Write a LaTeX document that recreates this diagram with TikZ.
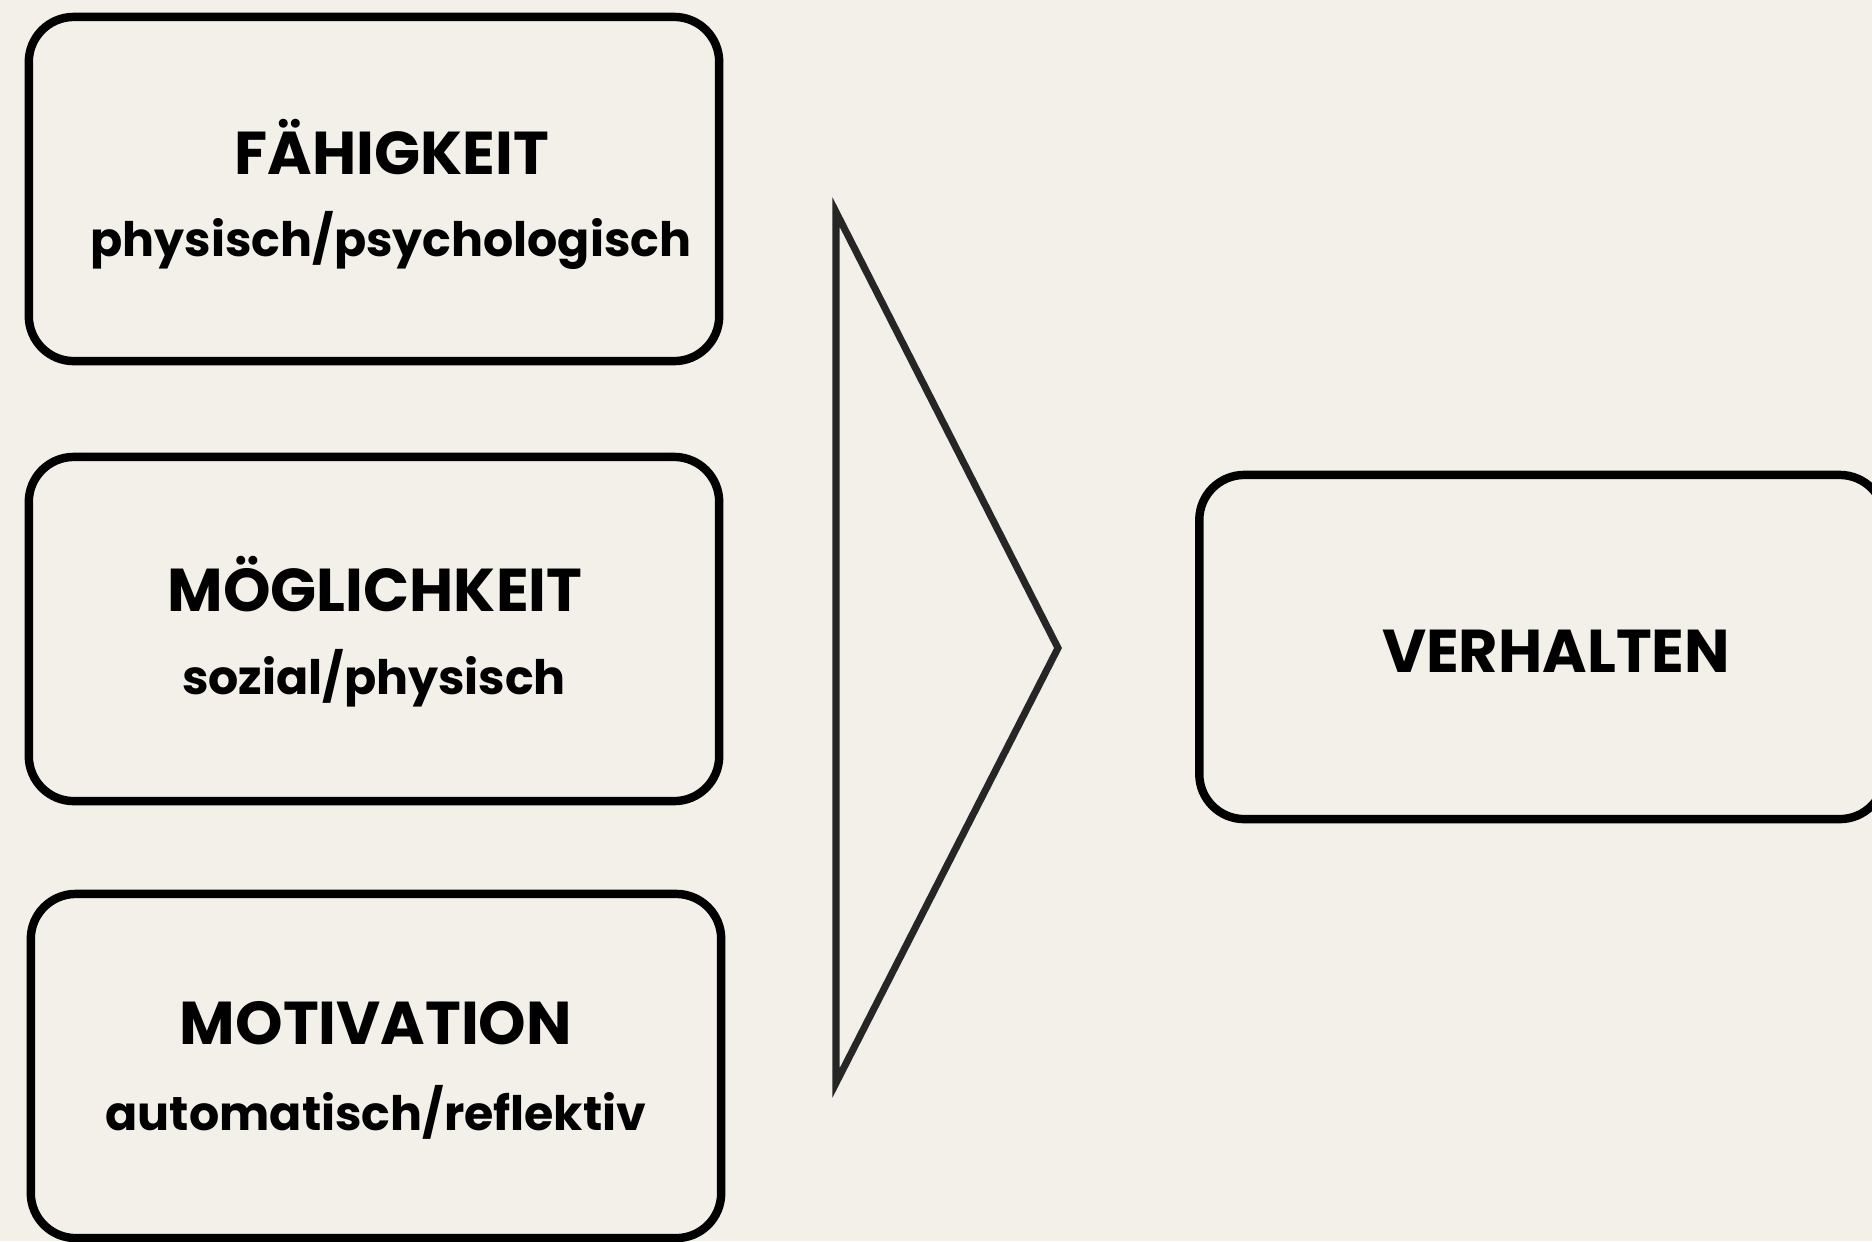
\documentclass[tikz,border=0pt]{standalone}
\usepackage{fontspec}
\setmainfont{Poppins}
\definecolor{bg}{HTML}{F2F0E9}
\definecolor{tri}{HTML}{262626}
\begin{document}
\begin{tikzpicture}[x=0.01cm,y=-0.01cm,
  box/.style={draw=black,line width=2.4pt,rounded corners=0.45cm,minimum width=6.9cm,minimum height=3.44cm,inner sep=0pt},
  title/.style={font=\fontsize{17.2}{20}\selectfont\bfseries,inner sep=0pt},
  sub/.style={font=\fontsize{13.5}{16}\selectfont\bfseries,inner sep=0pt}]
\fill[bg] (0,0) rectangle (1872,1241);
\useasboundingbox (0,0) rectangle (1872,1241);
\node[box] (b1) at (374,189) {};
\node[box] (b2) at (374,629) {};
\node[box] (b3) at (376,1066) {};
\node[box,minimum width=6.85cm] (b4) at (1542,647) {};
\node[title] (t1) at (392,147) {FÄHIGKEIT};
\node[sub] (s1) at (391,240) {physisch/psychologisch};
\node[title] (t2) at (375,584) {MÖGLICHKEIT};
\node[sub] (s2) at (374,678) {sozial/physisch};
\node[title] (t3) at (376,1023) {MOTIVATION};
\node[sub] (s3) at (376,1112) {automatisch/reflektiv};
\node[title] (t4) at (1556,651) {VERHALTEN};
\coordinate (p1) at (836,212);
\coordinate (p2) at (1058,648);
\coordinate (p3) at (836,1083);
\draw[tri,line width=2pt,miter limit=20] (p1) -- (p2) -- (p3) -- cycle;
\end{tikzpicture}
\end{document}
